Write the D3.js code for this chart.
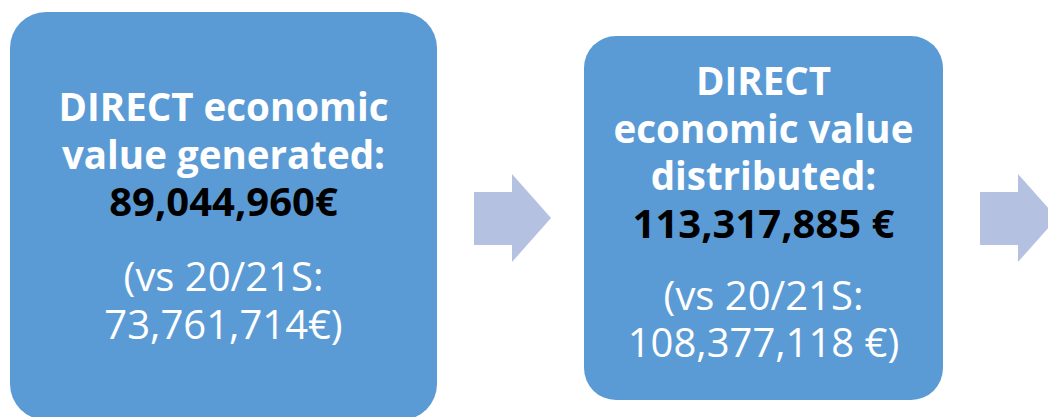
<!DOCTYPE html>
<html>
<head>
<meta charset="utf-8">
<script src="https://cdn.jsdelivr.net/npm/d3@7"></script>
<style>
  body { margin: 0; background: #fff; overflow: hidden; }
</style>
</head>
<body>
<script>
// chart content
const boxTitles = [["DIRECT economic", "value generated:"], ["DIRECT", "economic value", "distributed:"]];
const boxValues = ["89,044,960€", "113,317,885 €"];
const prevLabels = ["(vs 20/21S:", "(vs 20/21S:"];
const prevValues = ["73,761,714€)", "108,377,118 €)"];

const w = 1048, h = 417;
const svg = d3.select("body").append("svg").attr("width", w).attr("height", h);

// box geometry (layout)
const boxes = [
    { x: 10, y: 12, w: 427, h: 408, r: 36, top: 121, gap: 75 },
    { x: 584, y: 36, w: 359, h: 364, r: 32, top: 95, gap: 72 }
];
const lineH = 47.5;
const font = "'Open Sans', Lato, sans-serif";

boxes.forEach((b, i) => {
    const g = svg.append("g");
    g.append("rect")
        .attr("x", b.x).attr("y", b.y)
        .attr("width", b.w).attr("height", b.h)
        .attr("rx", b.r).attr("ry", b.r)
        .attr("fill", "#5B9BD5");
    const cx = b.x + b.w / 2;
    const boldLines = boxTitles[i].map(t => ({ t, c: "#fff", s: 38.5 }))
        .concat([{ t: boxValues[i], c: "#000", s: 40 }]);
    g.selectAll("text.bold").data(boldLines).enter().append("text")
        .attr("class", "bold")
        .attr("x", cx).attr("y", (d, j) => b.top + j * lineH)
        .attr("text-anchor", "middle")
        .style("font-family", font).style("font-weight", 700).style("font-size", d => d.s + "px")
        .attr("fill", d => d.c)
        .text(d => d.t);
    const lastBold = b.top + (boldLines.length - 1) * lineH;
    g.selectAll("text.reg").data([prevLabels[i], prevValues[i]]).enter().append("text")
        .attr("class", "reg")
        .attr("x", cx).attr("y", (d, j) => lastBold + b.gap + j * lineH)
        .attr("text-anchor", "middle")
        .style("font-family", font).style("font-weight", 400).style("font-size", "40px")
        .attr("fill", "#fff")
        .text(d => d);
});

// arrows
const arrows = [{ x: 474 }, { x: 980 }];
const arrowPath = x => {
    const p = d3.path();
    p.moveTo(x, 192); p.lineTo(x + 38, 192); p.lineTo(x + 38, 174);
    p.lineTo(x + 77, 218); p.lineTo(x + 38, 262); p.lineTo(x + 38, 245);
    p.lineTo(x, 245); p.closePath();
    return p.toString();
};
svg.selectAll("path.arrow").data(arrows).enter().append("path")
    .attr("class", "arrow")
    .attr("d", d => arrowPath(d.x))
    .attr("fill", "#B4C1E1");
</script>
</body>
</html>
